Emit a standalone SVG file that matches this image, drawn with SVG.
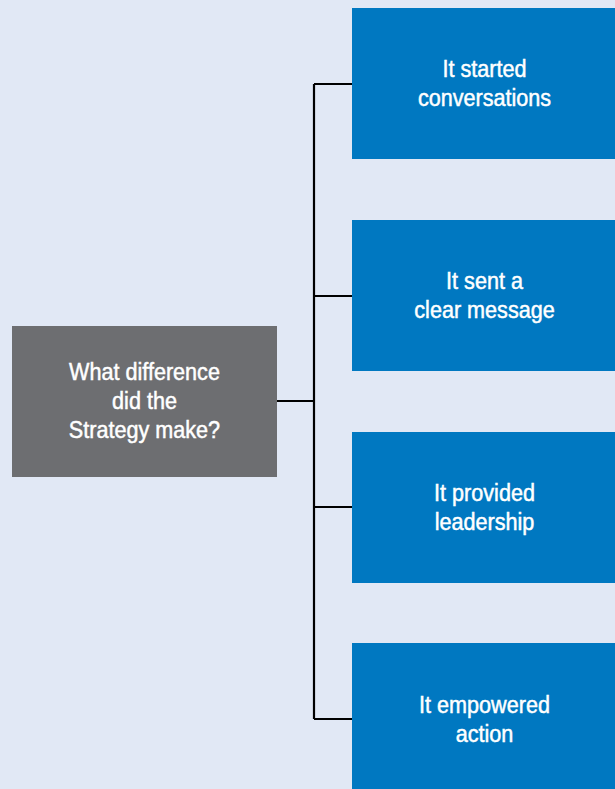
<svg xmlns="http://www.w3.org/2000/svg" width="615" height="789" viewBox="0 0 615 789">
<style>
.bg{fill:#e1e8f5}
.blue{fill:#0078c1}
.grey{fill:#6d6e71}
.lbl{font-family:"Liberation Sans",Arial,sans-serif;font-size:24px;fill:#ffffff;stroke:#ffffff;stroke-width:0.5;text-anchor:middle}
.conn{fill:none;stroke:#000000;stroke-width:2.2}
</style>
<rect class="bg" x="0" y="0" width="615" height="789"/>
<g id="connectors">
<path class="conn" d="M277 401 H314 M314 84 V719 M314 84 H352 M314 296 H352 M314 507 H352 M314 719 H352"/>
</g>
<g id="root">
<rect class="grey" x="12" y="326" width="265" height="151"/>
<g transform="translate(144.5 0) scale(0.9 1)">
<text class="lbl" x="0" y="380">What difference</text>
<text class="lbl" x="0" y="409">did the</text>
<text class="lbl" x="0" y="438">Strategy make?</text>
</g>
</g>
<g id="n1">
<rect class="blue" x="352" y="8" width="263" height="151"/>
<g transform="translate(484.5 0) scale(0.9 1)">
<text class="lbl" x="0" y="77.5">It started</text>
<text class="lbl" x="0" y="106">conversations</text>
</g>
</g>
<g id="n2">
<rect class="blue" x="352" y="220" width="263" height="151"/>
<g transform="translate(484.5 0) scale(0.9 1)">
<text class="lbl" x="0" y="289.5">It sent a</text>
<text class="lbl" x="0" y="318">clear message</text>
</g>
</g>
<g id="n3">
<rect class="blue" x="352" y="432" width="263" height="151"/>
<g transform="translate(484.5 0) scale(0.9 1)">
<text class="lbl" x="0" y="501.5">It provided</text>
<text class="lbl" x="0" y="530">leadership</text>
</g>
</g>
<g id="n4">
<rect class="blue" x="352" y="643" width="263" height="151"/>
<g transform="translate(484.5 0) scale(0.9 1)">
<text class="lbl" x="0" y="713">It empowered</text>
<text class="lbl" x="0" y="742.5">action</text>
</g>
</g>
</svg>
